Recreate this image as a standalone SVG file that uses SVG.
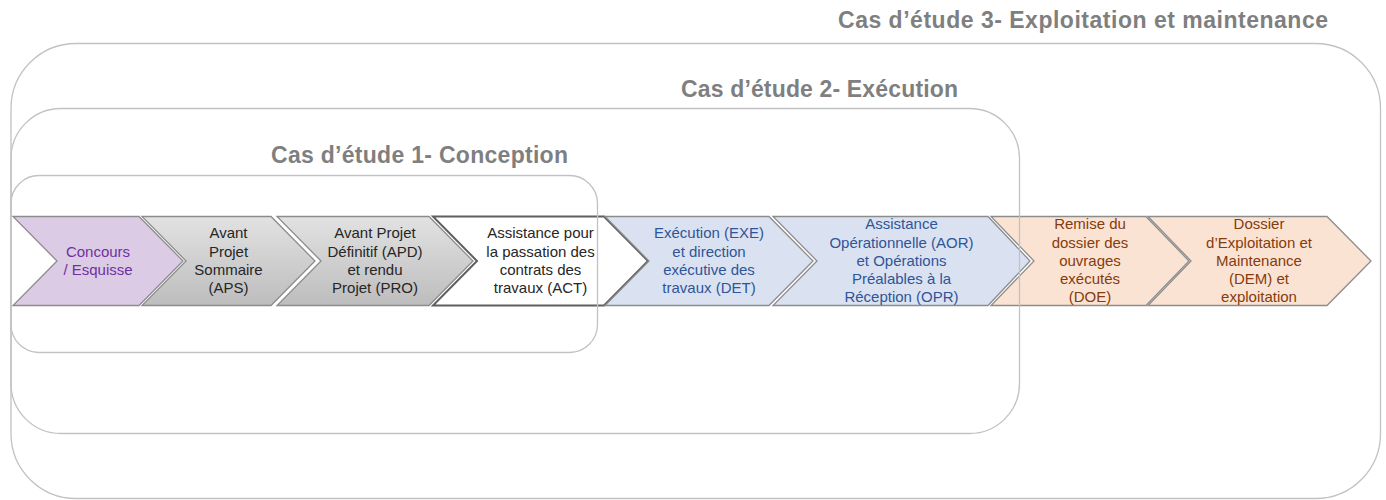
<svg xmlns="http://www.w3.org/2000/svg" width="1386" height="500" viewBox="0 0 1386 500">
<defs>
<linearGradient id="gGrey" x1="0" y1="0" x2="0" y2="1">
<stop offset="0" stop-color="#e2e2e2"/>
<stop offset="1" stop-color="#bdbdbd"/>
</linearGradient>
<style>
.box{fill:none;stroke:#c2c2c2;stroke-width:1.3}
.title{font-family:"Liberation Sans",Arial,sans-serif;font-weight:bold;font-size:23px;fill:#7f7f7f}
.chev{stroke:#8c8c8c;stroke-width:1.3;stroke-linejoin:miter}
.purple{fill:#dccbe5}
.grey{fill:url(#gGrey)}
.white{fill:#ffffff;stroke:#5f5f5f;stroke-width:2}
.blue{fill:#dae2f2}
.peach{fill:#fbe3d4}
.lbl{font-family:"Liberation Sans",Arial,sans-serif;font-size:15px;text-anchor:middle}
.tp{fill:#7030a0}
.tk{fill:#262626}
.tb{fill:#2f5597}
.to{fill:#843c0c}
</style>
</defs>
<rect width="1386" height="500" fill="#ffffff"/>

<g id="step-esquisse">
<polygon class="chev purple" points="13,216.5 139,216.5 183,261 139,305.5 13,305.5 57,261"/>
<text class="lbl tp"><tspan x="98" y="256.7">Concours</tspan><tspan x="98" y="275">/ Esquisse</tspan></text>
</g>
<g id="step-aps">
<polygon class="chev grey" points="142,216.5 271,216.5 315,261 271,305.5 142,305.5 186,261"/>
<text class="lbl tk"><tspan x="228.5" y="238.4">Avant</tspan><tspan x="228.5" y="256.7">Projet</tspan><tspan x="228.5" y="275">Sommaire</tspan><tspan x="228.5" y="293.3">(APS)</tspan></text>
</g>
<g id="step-apd">
<polygon class="chev grey" points="277,216.5 429,216.5 473,261 429,305.5 277,305.5 321,261"/>
<text class="lbl tk"><tspan x="375" y="238.4">Avant Projet</tspan><tspan x="375" y="256.7">Définitif (APD)</tspan><tspan x="375" y="275">et rendu</tspan><tspan x="375" y="293.3">Projet (PRO)</tspan></text>
</g>
<g id="step-act">
<polygon class="chev white" points="433,216.5 604,216.5 648,261 604,305.5 433,305.5 477,261"/>
<text class="lbl tk"><tspan x="540.5" y="238.4">Assistance pour</tspan><tspan x="540.5" y="256.7">la passation des</tspan><tspan x="540.5" y="275">contrats des</tspan><tspan x="540.5" y="293.3">travaux (ACT)</tspan></text>
</g>
<g id="step-exe">
<polygon class="chev blue" points="605,216.5 769,216.5 813,261 769,305.5 605,305.5 649,261"/>
<text class="lbl tb"><tspan x="709" y="238.4">Exécution (EXE)</tspan><tspan x="709" y="256.7">et direction</tspan><tspan x="709" y="275">exécutive des</tspan><tspan x="709" y="293.3">travaux (DET)</tspan></text>
</g>
<g id="step-aor">
<polygon class="chev blue" points="773,216.5 988,216.5 1030,261 988,305.5 773,305.5 817,261"/>
<text class="lbl tb"><tspan x="901.5" y="229.2">Assistance</tspan><tspan x="901.5" y="247.5">Opérationnelle (AOR)</tspan><tspan x="901.5" y="265.8">et Opérations</tspan><tspan x="901.5" y="284.1">Préalables à la</tspan><tspan x="901.5" y="302.4">Réception (OPR)</tspan></text>
</g>
<g id="step-doe">
<polygon class="chev peach" points="991,216.5 1146,216.5 1189,261 1146,305.5 991,305.5 1034,261"/>
<text class="lbl to"><tspan x="1090" y="229.2">Remise du</tspan><tspan x="1090" y="247.5">dossier des</tspan><tspan x="1090" y="265.8">ouvrages</tspan><tspan x="1090" y="284.1">exécutés</tspan><tspan x="1090" y="302.4">(DOE)</tspan></text>
</g>
<g id="step-dem">
<polygon class="chev peach" points="1148,216.5 1327,216.5 1371,261 1327,305.5 1148,305.5 1191,261"/>
<text class="lbl to"><tspan x="1259" y="229.2">Dossier</tspan><tspan x="1259" y="247.5">d’Exploitation et</tspan><tspan x="1259" y="265.8">Maintenance</tspan><tspan x="1259" y="284.1">(DEM) et</tspan><tspan x="1259" y="302.4">exploitation</tspan></text>
</g>

<g id="case-3">
<rect class="box" x="11" y="43.5" width="1369.5" height="455" rx="65" ry="65"/>
<text class="title" x="838" y="27.5" textLength="490">Cas d’étude 3- Exploitation et maintenance</text>
</g>
<g id="case-2">
<rect class="box" x="11" y="108.5" width="1008.5" height="325" rx="50" ry="50"/>
<text class="title" x="681" y="96.5" textLength="277">Cas d’étude 2- Exécution</text>
</g>
<g id="case-1">
<rect class="box" x="11" y="175.5" width="586.5" height="177" rx="28" ry="28"/>
<text class="title" x="271" y="162.5" textLength="297">Cas d’étude 1- Conception</text>
</g>

<g id="connectors"/>
</svg>
